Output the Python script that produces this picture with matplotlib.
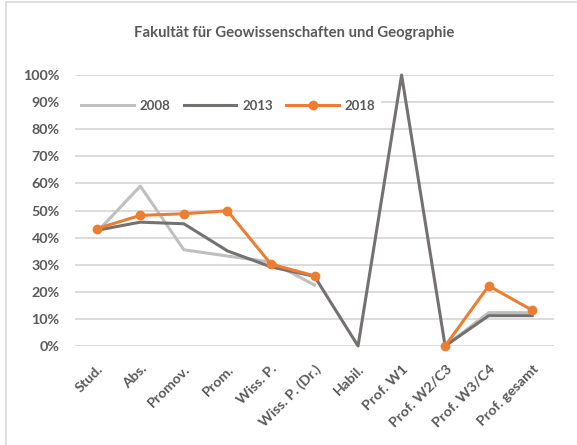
import matplotlib
import matplotlib.pyplot as plt
import numpy as np

matplotlib.use("Agg")

TEXT_COLOR = "#595959"
GRID_COLOR = "#d9d9d9"
COLOR_2008 = "#bfbfbf"
COLOR_2013 = "#767171"
COLOR_2018 = "#ed7d31"

categories = [
    "Stud.", "Abs.", "Promov.", "Prom.", "Wiss. P.", "Wiss. P. (Dr.)",
    "Habil.", "Prof. W1", "Prof. W2/C3", "Prof. W3/C4", "Prof. gesamt",
]
share_2008 = [0.42, 0.59, 0.355, 0.332, 0.31, 0.225, np.nan, np.nan, 0.0, 0.123, 0.123]
share_2013 = [0.427, 0.457, 0.451, 0.351, 0.292, 0.257, 0.0, 1.0, 0.0, 0.112, 0.112]
share_2018 = [0.433, 0.482, 0.488, 0.499, 0.302, 0.259, np.nan, np.nan, 0.0, 0.222, 0.132]
yticks = [i / 10 for i in range(11)]

plt.rcParams["font.family"] = ["Lato", "DejaVu Sans"]

fig = plt.figure(figsize=(5.77, 4.45), dpi=100)
ax = fig.add_axes([75 / 577, 1 - 346 / 445, 479 / 577, 271 / 445])

x = np.arange(len(categories))
ax.plot(x, share_2008, color=COLOR_2008, linewidth=2.2, label="2008", clip_on=False, zorder=3)
ax.plot(x, share_2013, color=COLOR_2013, linewidth=2.2, label="2013", clip_on=False, zorder=4)
ax.plot(x, share_2018, color=COLOR_2018, linewidth=2.2, marker="o", markersize=6,
        label="2018", clip_on=False, zorder=5)

ax.set_xlim(-0.5, len(categories) - 0.5)
ax.set_ylim(0, 1)
ax.set_yticks(yticks)
ax.set_yticklabels([f"{int(round(t * 100))}%" for t in yticks])
ax.set_xticks(x)
ax.set_xticklabels(categories, rotation=45, ha="right", rotation_mode="anchor")
ax.tick_params(length=0, colors=TEXT_COLOR, labelsize=10.3)
ax.tick_params(axis="y", pad=11)
ax.tick_params(axis="x", pad=12)
for label in ax.get_xticklabels() + ax.get_yticklabels():
    label.set_fontweight("bold")
ax.grid(axis="y", color=GRID_COLOR, linewidth=1.3, zorder=0)
ax.set_axisbelow(True)
for side in ax.spines.values():
    side.set_visible(False)

leg = ax.legend(
    loc="center left", bbox_to_anchor=(0.0, 0.886), ncol=3, frameon=True,
    borderaxespad=0, borderpad=0.45, handlelength=4.0, handletextpad=0.45,
    columnspacing=1.0, fontsize=9.5, fancybox=False,
)
leg.set_zorder(2)
leg.get_frame().set_facecolor("white")
leg.get_frame().set_edgecolor("none")
leg.get_frame().set_alpha(1)
for text in leg.get_texts():
    text.set_color(TEXT_COLOR)
    text.set_fontweight("bold")

fig.text(294 / 577, 1 - 33 / 445, "Fakultät für Geowissenschaften und Geographie",
         ha="center", va="center", fontsize=10.7, fontweight="bold", color=TEXT_COLOR)

# chart border (only left and top visible in the crop)
fig.add_artist(plt.Line2D([6 / 577, 6 / 577], [0, 1 - 2 / 445], color="#d9d9d9", linewidth=1.2))
fig.add_artist(plt.Line2D([6 / 577, 1], [1 - 2 / 445, 1 - 2 / 445], color="#d9d9d9", linewidth=1.2))

fig.savefig("out.png", dpi=100)
